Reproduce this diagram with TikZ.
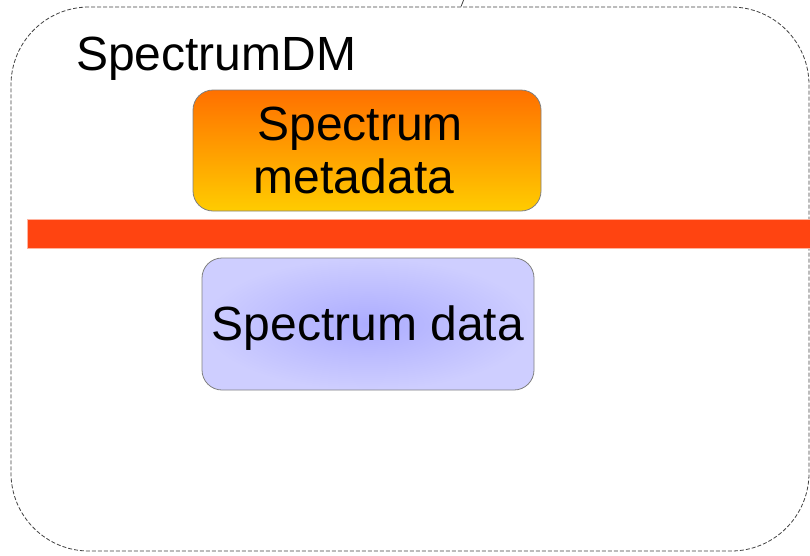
\documentclass[tikz,border=0pt]{standalone}
\usepackage{fontspec}
\setmainfont{Liberation Sans}
\usepackage{xcolor}
\usetikzlibrary{positioning,calc}

\definecolor{metatop}{RGB}{255,112,0}
\definecolor{metabot}{RGB}{255,204,0}
\definecolor{barred}{RGB}{255,68,17}
\definecolor{dataedge}{RGB}{206,206,255}
\definecolor{datamid}{RGB}{172,172,255}

\begin{document}
\begin{tikzpicture}[
  x=1pt,y=-1pt,
  font=\fontsize{48}{53}\selectfont,
  frame/.style={draw=black!75,dashed,dash pattern=on 4pt off 2pt,line width=0.8pt,rounded corners=78pt},
  box/.style={draw=black!50,line width=0.8pt,rounded corners=20pt,align=center,inner sep=0pt},
  metabox/.style={box,top color=metatop,bottom color=metabot,minimum width=348pt,minimum height=121pt},
  databox/.style={box,inner color=datamid,outer color=dataedge,minimum width=332pt,minimum height=132pt,
    text height=43pt,text depth=10pt},
  bar/.style={fill=barred,draw=barred!40,line width=0.5pt,inner sep=0pt},
]
\useasboundingbox (0,0) rectangle (810,555);
% outer package frame
\node[frame,minimum width=798pt,minimum height=544pt,inner sep=0pt] (dm) at (410,279) {};
\coordinate (tick) at (464,-1);
\draw[black!75,line width=0.8pt] (dm.north) ++(51,0) coordinate (join) -- (tick);
\node[anchor=base west,inner sep=0pt] (title) at (76,70) {SpectrumDM};
% contents
\node[metabox] (meta) at (367,150.5) {Spectrum\hspace*{14pt}\\metadata\hspace*{26pt}};
\node[bar,minimum width=784pt,minimum height=29pt] (sep) at (419,233.5) {};
\node[databox] (data) at (368,324) {Spectrum data};
\end{tikzpicture}
\end{document}
